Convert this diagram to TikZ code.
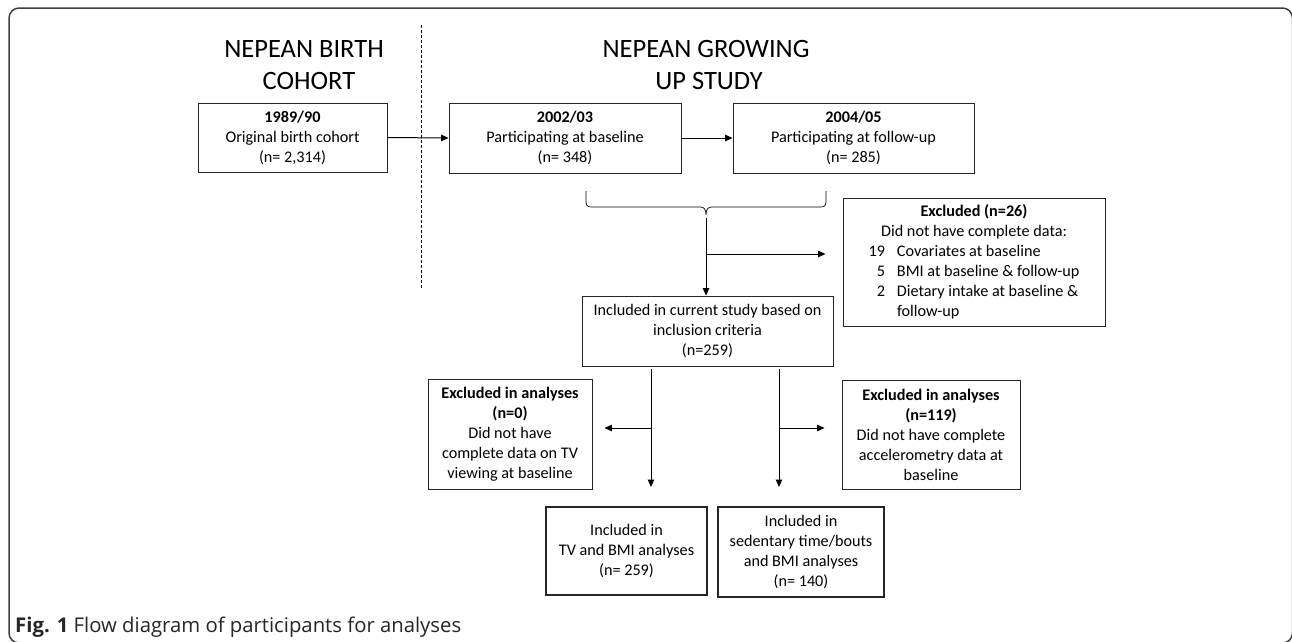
\documentclass[tikz,border=0pt]{standalone}
\usepackage{fontspec}
\setmainfont{Carlito}
\newfontfamily\capfont{Open Sans}
\usetikzlibrary{arrows.meta,calc}
\begin{document}
\begin{tikzpicture}[x=1pt,y=-1pt,
  box/.style={draw=black!85,line width=0.9pt,inner sep=0pt,align=center,
    font=\fontsize{16.2}{20}\selectfont},
  finbox/.style={box,line width=2pt},
  arr/.style={line width=1pt,-{Triangle[length=7.5pt,width=6.5pt]}},
  head/.style={anchor=base,inner sep=0pt,font=\fontsize{26.5}{32}\selectfont},
]
\path[use as bounding box,clip] (0,0) rectangle (1292,641);
\fill[white] (0,0) rectangle (1292,641);
% frame
\draw[black!75,line width=1.5pt,rounded corners=10pt] (9,8) rectangle (1292.5,643);

% headings
\node[head] (h1a) at (304,57) {NEPEAN BIRTH};
\node[head] (h1b) at (309,89) {COHORT};
\node[head] (h2a) at (706,57) {NEPEAN GROWING};
\node[head] (h2b) at (709,89) {UP STUDY};

% dashed separator
\coordinate (dtop) at (421,25);
\coordinate (dbot) at (421,288);
\draw[line width=0.6pt,dash pattern=on 3pt off 2pt] (dtop) -- (dbot);

% boxes
\node[box,minimum width=189pt,minimum height=69pt] (birth) at (292.5,137.5)
  {\textbf{1989/90}\\Original birth cohort\\(n= 2,314)};
\node[box,minimum width=232pt,minimum height=70pt] (base) at (565,138)
  {\textbf{2002/03}\\Participating at baseline\\(n= 348)};
\node[box,minimum width=241pt,minimum height=70pt] (follow) at (853.5,138)
  {\textbf{2004/05}\\Participating at follow-up\\(n= 285)};
\node[box,minimum width=262pt,minimum height=128pt] (exc1) at (974,262)
  {\begin{tabular}{@{}r@{\hspace{12pt}}l@{}}
   \multicolumn{2}{@{}c@{}}{\textbf{Excluded (n=26)}}\\
   \multicolumn{2}{@{}c@{}}{Did not have complete data:}\\
   19 & Covariates at baseline\\
   5 & BMI at baseline \& follow-up\\
   2 & Dietary intake at baseline \&\\
     & follow-up
   \end{tabular}};
\node[box,minimum width=251pt,minimum height=70pt] (incl) at (707.5,331)
  {Included in current study based on\\inclusion criteria\\(n=259)};
\node[box,minimum width=164pt,minimum height=110pt] (excL) at (510,434)
  {\textbf{Excluded in analyses}\\\textbf{(n=0)}\\Did not have\\complete data on TV\\viewing at baseline};
\node[box,minimum width=178pt,minimum height=109pt] (excR) at (931,434.5)
  {\textbf{Excluded in analyses}\\\textbf{(n=119)}\\Did not have complete\\accelerometry data at\\baseline};
\node[finbox,minimum width=161pt,minimum height=88pt] (finL) at (626.5,551)
  {Included in\\TV and BMI analyses\\(n= 259)};
\node[finbox,minimum width=166pt,minimum height=90pt] (finR) at (801,552)
  {Included in\\sedentary time/bouts\\and BMI analyses\\(n= 140)};

% top arrows
\draw[arr] (birth.east) -- (base.west);
\draw[arr] (base.east) -- (follow.west);

% brace
\coordinate (bl) at (586,191);
\coordinate (br) at (826,191);
\coordinate (bt) at (706,215);
\draw[line width=0.7pt]
  (bl) -- (586,202) .. controls (586,206) and (588,207) .. (592,207)
  -- (700,207) .. controls (704,207) and (706,209) .. (bt)
  (bt) .. controls (706,209) and (708,207) .. (712,207)
  -- (820,207) .. controls (824,207) and (826,206) .. (826,202) -- (br);

% trunk and branch
\coordinate (tr) at (706,218);
\coordinate (tb) at (706,254);
\draw[arr] (tr) -- (tr |- incl.north);
\draw[arr,shorten >=17pt] (tb) -- (tb -| exc1.west);

% lower branches
\coordinate (dL) at (651,369);
\coordinate (dR) at (779,369);
\coordinate (bLb) at (651,428);
\coordinate (bRb) at (779,428);
\draw[arr,shorten >=19pt] (dL) -- (dL |- finL.north);
\draw[arr,shorten >=19pt] (dR) -- (dR |- finR.north);
\draw[arr,shorten >=12pt] (bLb) -- (bLb -| excL.east);
\draw[arr,shorten >=17pt] (bRb) -- (bRb -| excR.west);

% caption
\node[anchor=base west,inner sep=0pt,text=black!85,font=\capfont\fontsize{20.3}{24}\selectfont] (cap) at (15,632)
  {\textbf{Fig. 1} Flow diagram of participants for analyses};
\end{tikzpicture}
\end{document}
